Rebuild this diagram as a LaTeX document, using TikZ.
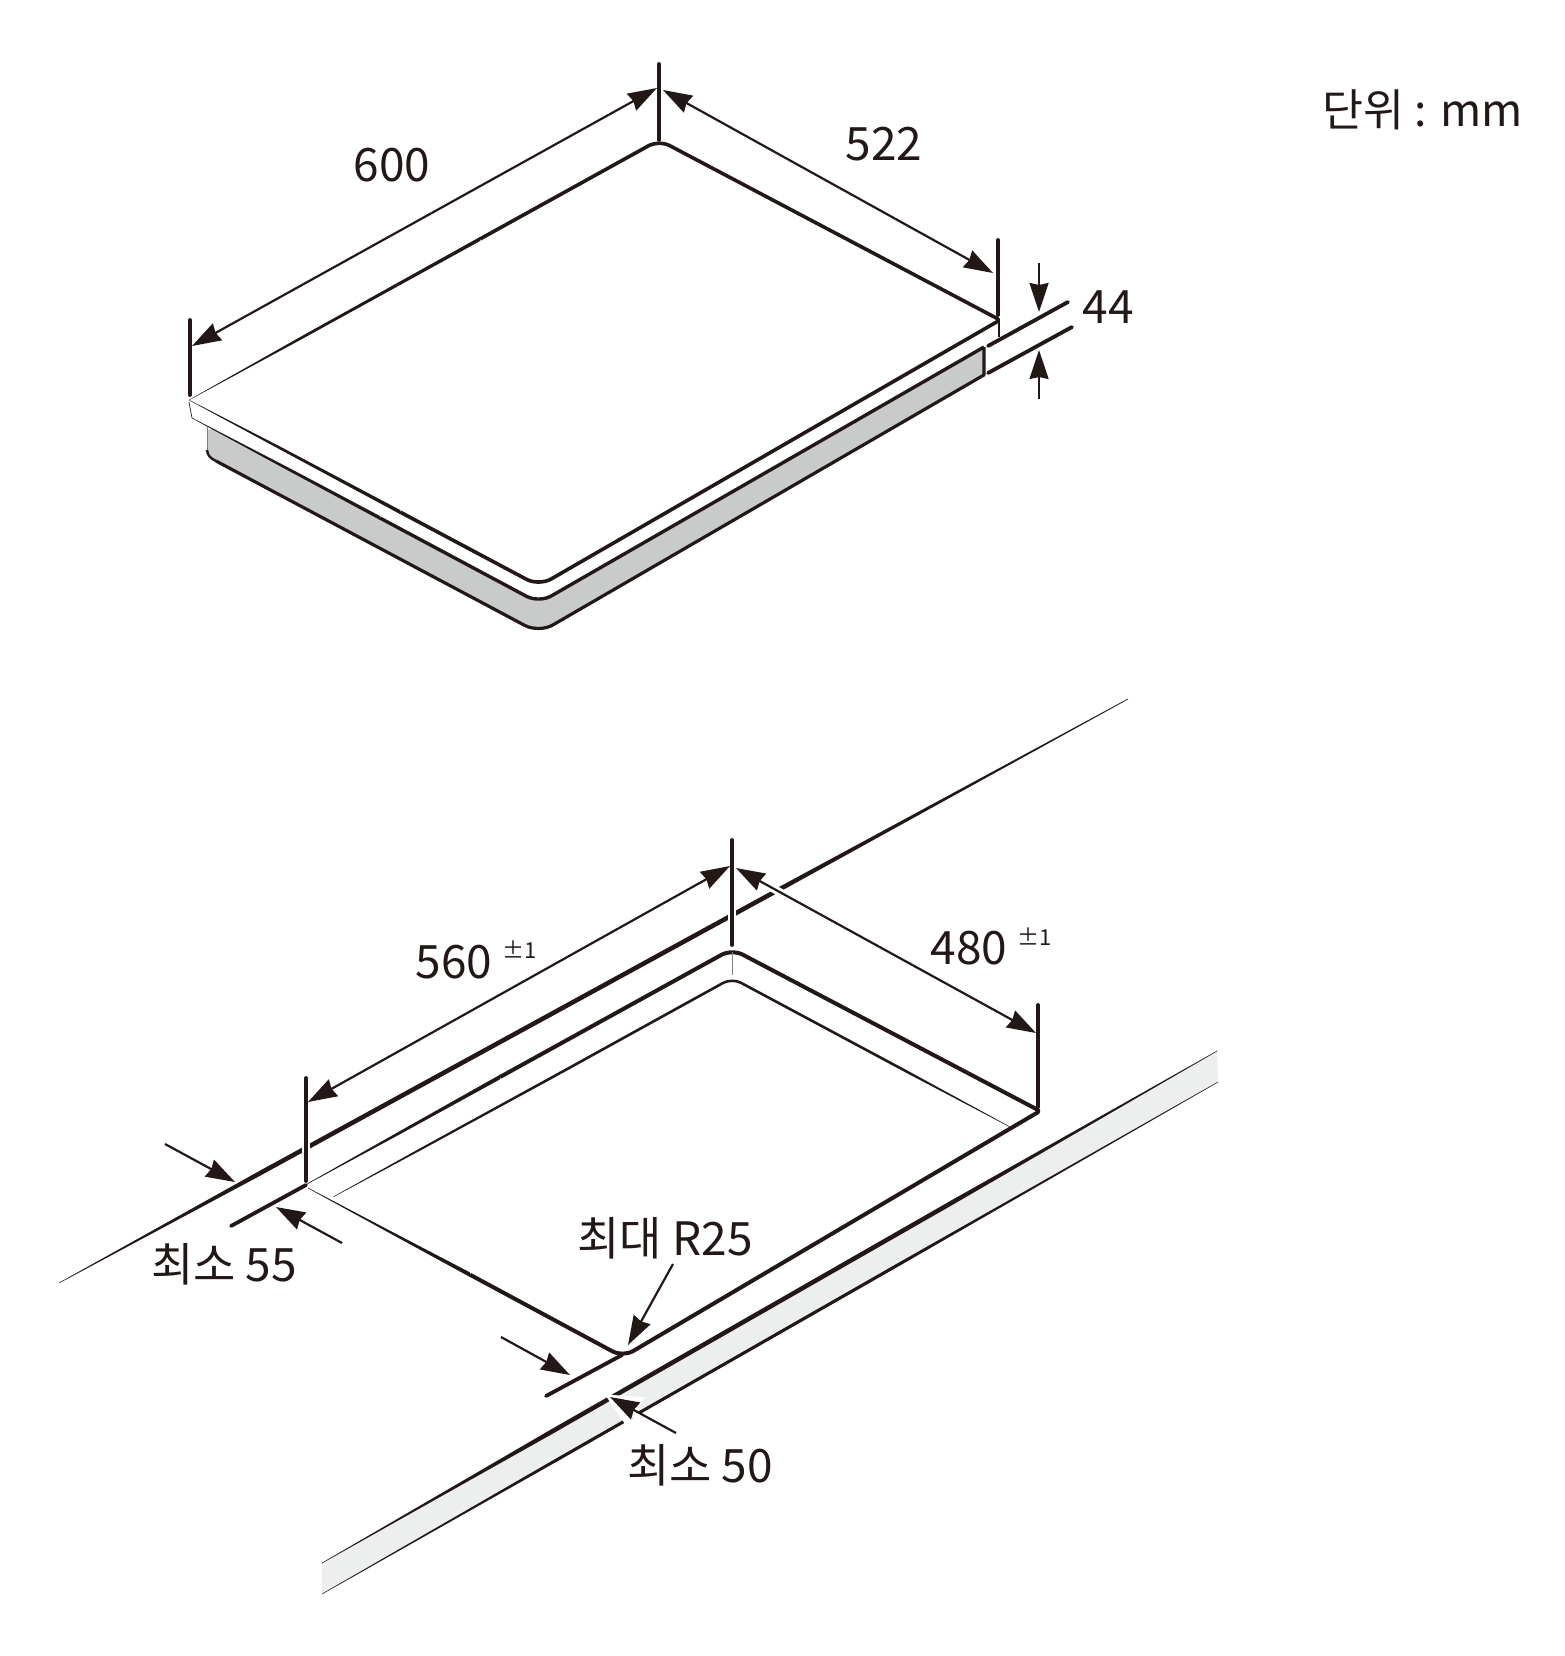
\documentclass[tikz,border=0pt]{standalone}
\usepackage{fontspec}
\setmainfont{Noto Sans CJK KR}
\usetikzlibrary{arrows.meta, positioning}
\definecolor{ink}{HTML}{231815}
\definecolor{hobgray}{HTML}{C9CACA}
\definecolor{stripgray}{HTML}{EDEFEE}
\tikzset{%
	dimline/.style={
		ink,
		line width=2.2pt,
		-{Stealth[length=29pt,width=19pt,inset=2pt]}
	},
	dimboth/.style={
		ink,
		line width=2.2pt,
		{Stealth[length=29pt,width=19pt,inset=2pt]}-{Stealth[length=29pt,width=19pt,inset=2pt]}
	},
	extline/.style={
		ink,
		line width=3.8pt,
		line cap=round
	},
	halo/.style={
		white,
		line width=8pt
	},
	edgeline/.style={
		ink,
		line width=3.6pt,
		line join=round
	},
	dimtext/.style={
		text=ink,
		inner sep=0pt,
		font=\fontsize{46}{46}\selectfont
	},
	toltext/.style={
		text=ink,
		inner sep=0pt,
		font=\fontsize{22}{22}\selectfont
	},
}
\newcommand{\taperline}[6]{\fill[ink] ({#1},{#2-#3/2}) -- ({#4},{#5-#6/2}) -- ({#4},{#5+#6/2}) -- ({#1},{#2+#3/2}) -- cycle;}

\begin{document}
\begin{tikzpicture}[x=1pt,y=-1pt]
	\useasboundingbox (0,0) rectangle (1565,1656);

	% Hob seen from above
	\fill[hobgray, rounded corners=8pt] (207,426) [rounded corners=14pt] -- (539,603) [rounded corners=1pt] -- (984,347) -- (984,375) [rounded corners=16pt] -- (539,633) [rounded corners=8pt] -- (207,456) -- cycle;
	\draw[gray, line width=1pt] (207,427) -- (207,450);
	\draw[edgeline, line width=2.4pt] (216,461) .. controls (211,458.5) and (207.5,456) .. (207,450);
	\draw[edgeline, line width=3.2pt, rounded corners=16pt] (216,461) -- (539,633) -- (981,376.7);
	\draw[edgeline, line width=3.2pt] (981,376.7) -- (984,375) -- (984,347);
	\draw[edgeline, line width=3.4pt, rounded corners=14pt] (380,518) -- (539,603) -- (984,347);
	\taperline{192}{418}{0.6}{290}{470}{3.2}
	\taperline{290}{470}{3.2}{380}{518}{3.9}
	\draw[ink, line width=0.7pt] (189,402) -- (192,418);
	\draw[edgeline, rounded corners=12pt] (480,239) -- (659,140) [rounded corners=3pt] -- (1000,320) [rounded corners=14pt] -- (539,586) -- (400,512);
	\taperline{189}{400}{0.4}{300}{338.6}{3.0}
	\taperline{300}{338.6}{3.0}{480}{239}{4.1}
	\taperline{189}{400}{0.4}{280}{448}{3.0}
	\taperline{280}{448}{3.0}{400}{512}{4.1}
	\draw[ink, line width=1.8pt] (999,321) -- (999,337);

	\draw[extline] (659,64) -- (659,140);
	\draw[extline] (190,320) -- (190,395);
	\draw[extline] (998,240) -- (998,315);
	\draw[extline] (988,346) -- (1068,302);
	\draw[extline] (988,373) -- (1072,327);

	\draw[dimboth] (657,88) -- (192,346);
	\draw[dimboth] (663,90) -- (993,273);
	\draw[dimline] (1039,263) -- (1039,312);
	\draw[dimline] (1039,399) -- (1039,350);

	\node[dimtext] (top600) at (392,165) {600};
	\node[dimtext] (top522) at (884,144) {522};
	\node[dimtext] (top44) at (1108,307) {44};
	\node[dimtext, anchor=east, font=\fontsize{44.5}{44.5}\selectfont] (unitmm) at (1523,110) {단위 : mm};

	% Worktop and cut-out
	\taperline{59}{1283}{0.6}{260}{1173.2}{5.2}
	\taperline{260}{1173.2}{5.2}{780}{889}{5.2}
	\taperline{780}{889}{5.2}{1128}{699}{0.8}
	\draw[halo] (732,840) -- (732,945);
	\draw[halo] (306,1078) -- (306,1181);
	\draw[halo] (765,884) -- (785,895);

	\fill[stripgray] (1217,1051) -- (1218,1082) -- (322,1594) -- (322,1563) -- cycle;
	\taperline{322}{1563}{0.6}{550}{1432.6}{5.2}
	\taperline{550}{1432.6}{5.2}{950}{1203.7}{5.2}
	\taperline{950}{1203.7}{5.2}{1217}{1051}{0.6}
	\taperline{322}{1594}{0.6}{560}{1458}{3.6}
	\taperline{560}{1458}{3.6}{900}{1263.7}{3.6}
	\taperline{900}{1263.7}{3.6}{1218}{1082}{0.6}

	\draw[edgeline, line width=4pt, rounded corners=12pt] (500,1077) -- (732,949) [rounded corners=3pt] -- (1040,1111) [rounded corners=12pt] -- (623,1357) -- (470,1274.7);
	\taperline{307}{1184}{0.6}{400}{1132.6}{3.2}
	\taperline{400}{1132.6}{3.2}{500}{1077}{4.6}
	\taperline{308}{1188}{0.6}{390}{1232}{2.6}
	\taperline{390}{1232}{2.6}{470}{1274.7}{4.6}
	\draw[edgeline, line width=2.6pt, rounded corners=10pt] (560,1073) -- (732,978) -- (900,1068);
	\taperline{333}{1197}{0.5}{420}{1149.5}{2.4}
	\taperline{420}{1149.5}{2.4}{560}{1073}{3}
	\taperline{900}{1068}{3}{1012}{1128}{0.5}
	\draw[gray, line width=1pt] (732,952) -- (732,975);

	\draw[extline] (732,840) -- (732,945);
	\draw[extline] (306,1078) -- (306,1181);
	\draw[extline] (1038,1005) -- (1038,1107);
	\draw[extline] (231,1226) -- (306,1185);
	\draw[extline] (546,1396) -- (622,1355);

	\draw[dimboth] (730,866) -- (308,1102);
	\draw[dimboth] (736,868) -- (1036,1033);
	\draw[dimline] (165,1144) -- (235,1182);
	\draw[dimline] (342,1243) -- (276,1207);
	\draw[dimline] (673,1264) -- (628,1345);
	\draw[dimline] (501,1337) -- (570,1375);
	\fill[white] (605,1394.5) -- (645,1397) -- (627,1427) -- cycle;
	\draw[white, line width=8pt] (628,1411) -- (648,1422);
	\draw[dimline] (676,1433) -- (610,1397);

	\node[dimtext] (cut560) at (454,962) {560};
	\node[toltext] (tol560) at (520,950) {±1};
	\node[dimtext] (cut480) at (969,948) {480};
	\node[toltext] (tol480) at (1035,937) {±1};
	\node[dimtext] (maxR) at (665,1238) {최대 R25};
	\node[dimtext] (min55) at (224,1264) {최소 55};
	\node[dimtext] (min50) at (700,1465) {최소 50};
\end{tikzpicture}
\end{document}
